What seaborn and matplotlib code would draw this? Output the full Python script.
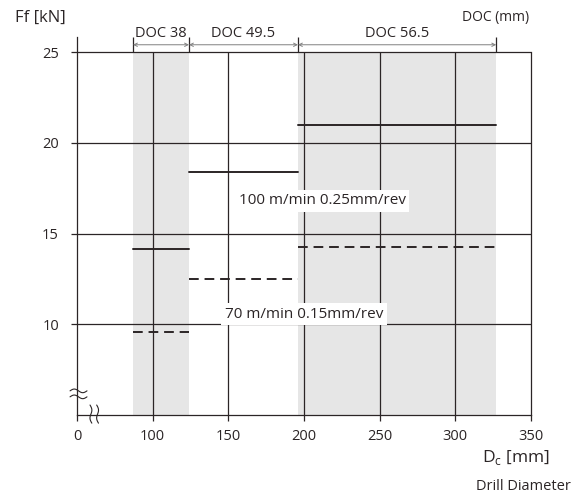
import matplotlib
matplotlib.use('Agg')
import matplotlib.pyplot as plt
import seaborn as sns
import pandas as pd
import numpy as np

# depth-of-cut bands along the drill diameter axis
doc_labels = ['DOC 38', 'DOC 49.5', 'DOC 56.5']
doc_edges = [87, 124, 196, 327]
doc_shaded = [True, False, True]

# thrust force per band
ff_high = [14.15, 18.4, 21.0]   # 100 m/min 0.25mm/rev
ff_low = [9.55, 12.5, 14.25]    # 70 m/min 0.15mm/rev

x_ticks = [50, 100, 150, 200, 250, 300, 350]
x_tick_labels = ['0', '100', '150', '200', '250', '300', '350']
y_ticks = [10, 15, 20, 25]

sns.set_theme(style='white')
plt.rcParams['font.family'] = ['Open Sans', 'DejaVu Sans']

ink = '#2b2526'
shade = '#e6e6e6'

rows = []
for i in range(len(doc_labels)):
    for cond, vals in (('high', ff_high), ('low', ff_low)):
        for x in (doc_edges[i], doc_edges[i + 1]):
            rows.append({'x': x, 'y': vals[i], 'cond': cond, 'seg': f'{cond}{i}'})
df = pd.DataFrame(rows)

fig = plt.figure(figsize=(5.85, 4.98), dpi=100)
ax = fig.add_axes([77 / 585, 1 - 415 / 498, (531 - 77) / 585, (415 - 37.5) / 498])
ax.set_xlim(50, 350)
ax.set_ylim(5, 25.8)
top_frac = (25 - 5) / (25.8 - 5)

for i, sh in enumerate(doc_shaded):
    if sh:
        ax.axvspan(doc_edges[i], doc_edges[i + 1], ymin=0, ymax=top_frac,
                   color=shade, lw=0, zorder=0)

ax.vlines([100, 150, 200, 250, 300], 5, 25, color=ink, lw=0.9, zorder=2)
ax.hlines(y_ticks, 50, 350, color=ink, lw=0.9, zorder=2)

sns.lineplot(data=df, x='x', y='y', units='seg', style='cond', estimator=None,
             dashes={'high': '', 'low': (5, 3)}, color=ink, linewidth=1.4,
             legend=False, ax=ax, zorder=4)

ax.text(212, 16.8, '100 m/min 0.25mm/rev', ha='center', va='center', fontsize=11,
        color=ink, bbox=dict(fc='white', ec='none', pad=2.5), zorder=5)
ax.text(200, 10.55, '70 m/min 0.15mm/rev', ha='center', va='center', fontsize=11,
        color=ink, bbox=dict(fc='white', ec='none', pad=2.5), zorder=5)

# DOC band markers above the plot
ax.vlines(doc_edges, 25, 25.8, color=ink, lw=0.9, clip_on=False)
for i, lab in enumerate(doc_labels):
    ax.annotate('', xy=(doc_edges[i], 25.4), xytext=(doc_edges[i + 1], 25.4),
                arrowprops=dict(arrowstyle='<->', color='#808080', lw=0.7,
                                shrinkA=0, shrinkB=0, mutation_scale=6),
                annotation_clip=False)
    ax.text((doc_edges[i] + doc_edges[i + 1]) / 2, 26.02, lab, ha='center', va='center',
            fontsize=10.5, color=ink, clip_on=False)

ax.spines['top'].set_visible(False)
ax.spines['right'].set_bounds(5, 25)
for side in ('left', 'right', 'bottom'):
    ax.spines[side].set_color(ink)
    ax.spines[side].set_linewidth(0.9)

ax.set_xticks(x_ticks)
ax.set_xticklabels(x_tick_labels)
ax.set_yticks(y_ticks)
ax.tick_params(axis='both', direction='out', length=4, width=0.9, color=ink,
               labelsize=10.5, labelcolor=ink)
ax.tick_params(axis='x', pad=6)
ax.tick_params(axis='y', pad=9)
ax.tick_params(bottom=True, left=True)
ax.set_xlabel('')
ax.set_ylabel('')

# axis break marks
t = np.linspace(0, 1, 40)
for y0 in (6.33, 6.0):
    ax.plot(45.4 + 11.2 * t, y0 + 0.1 * np.sin(2 * np.pi * t), color=ink, lw=0.8, clip_on=False)
for x0 in (58.6, 63.0):
    ax.plot(x0 + 0.9 * np.sin(2 * np.pi * t) + 1.2 * t, 5.55 - 1.0 * t, color=ink, lw=0.8, clip_on=False)

fig.text(15 / 585, 1 - 18 / 498, 'Ff [kN]', ha='left', va='center', fontsize=12, color=ink)
fig.text(529 / 585, 1 - 17 / 498, 'DOC (mm)', ha='right', va='center', fontsize=10, color=ink)
fig.text(550 / 585, 1 - 457 / 498, r'D$_\mathregular{c}$ [mm]', ha='right', va='center',
         fontsize=12.5, color=ink)
fig.text(571 / 585, 1 - 486 / 498, 'Drill Diameter', ha='right', va='center', fontsize=10.5, color=ink)

fig.savefig('out.png', dpi=100)
